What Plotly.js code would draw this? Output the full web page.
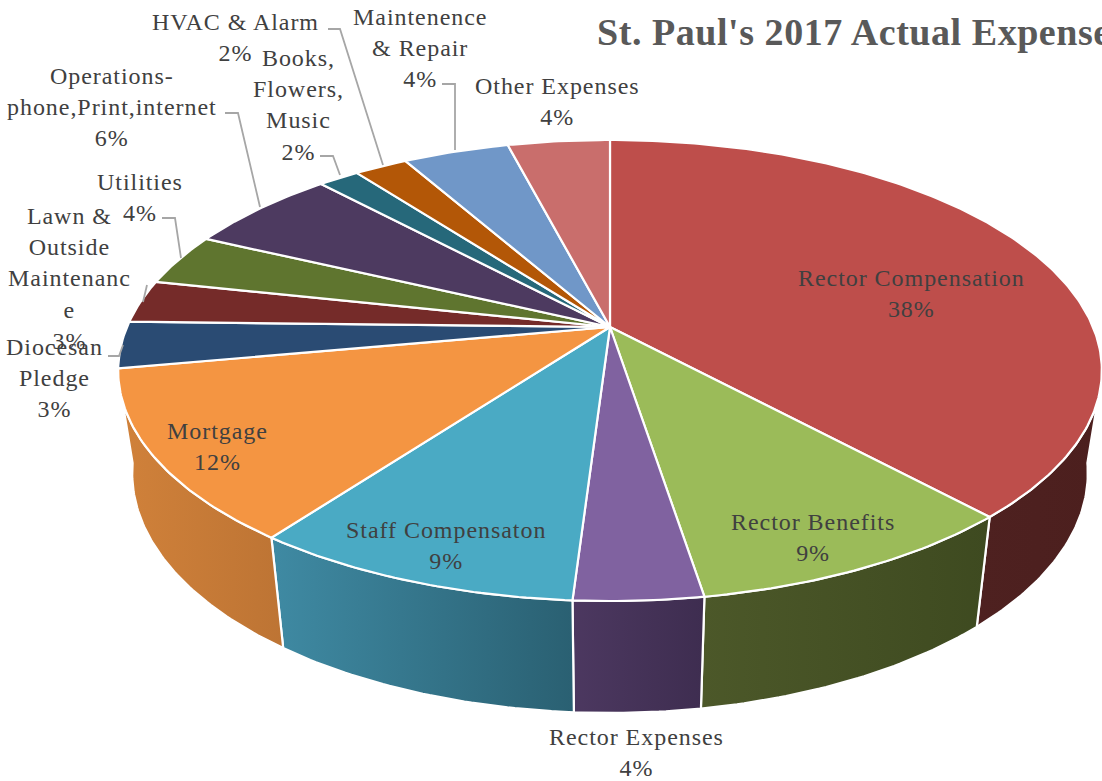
<!DOCTYPE html>
<html><head><meta charset="utf-8">
<script src="https://cdn.plot.ly/plotly-3.0.1.min.js"></script>
<style>html,body{margin:0;padding:0;background:#fff;overflow:hidden}#c{width:1102px;height:781px}
.annotation-text{letter-spacing:0.95px}
.gtitle{letter-spacing:0.55px}</style>
</head><body><div id="c"></div><script>
// Data (clockwise from 12 o'clock)
const categories = ["Rector Compensation","Rector Benefits","Rector Expenses","Staff Compensaton","Mortgage","Diocesan Pledge","Lawn & Outside Maintenance","Utilities","Operations-phone,Print,internet","Books, Flowers, Music","HVAC & Alarm","Maintenence & Repair","Other Expenses"];
const values = [38.2,9.3,3.55,9.14,12.0,3.26,3.01,3.66,6.04,1.61,2.1,4.19,4.03];
const wrapped = ["Rector Compensation","Rector Benefits","Rector Expenses","Staff Compensaton","Mortgage","Diocesan<br>Pledge","Lawn &<br>Outside<br>Maintenanc<br>e","Utilities","Operations-<br>phone,Print,internet","Books,<br>Flowers,<br>Music","HVAC & Alarm","Maintenence<br>& Repair","Other Expenses"];
const topColors = ["#BE4E4B","#9BBB59","#8062A0","#4AAAC4","#F49542","#2A4B73","#752B29","#5F752F","#4D3A60","#26687A","#B35707","#7097C8","#C96E6C"];
const wallFrom = ["#4E2120","#4C5829","#4C3860","#3F8AA3","#D0813A"];
const wallTo   = ["#4C1F1E","#3E4A20","#3E2D50","#2A6072","#BD7434"];
const title = "St. Paul's 2017 Actual Expenses";

// Layout of labels and leaders (pixels of the page)
const labelX = [911,813,636,446,217,54,69,140,112,298,235,420,557];
const labelY = [293,537,752,545,446,378,278,197,107,105,37,48,101];
const leaders = [
 null,null,null,null,null,
 [[108,356],[119,356],[123,345]],
 [[147,285],[143,302]],
 [[162,218],[175,218],[181,258]],
 [[225,113],[238,113],[260,207]],
 [[320,156],[333,156],[340,175]],
 [[328,29],[340,29],[383,165]],
 [[442,84],[455,84],[455,150]],
 null];

// Perspective projection of the disc onto the page
const topFace = {cx:610, cy:327, a:483, b:222.3, k:0.1887};
const botFace = {cx:610, cy:430, a:470, b:232,   k:0.18};
function project(f, deg){
  const t = deg*Math.PI/180, u = Math.sin(t), v = Math.cos(t), d = 1+f.k*v;
  return [f.cx + f.a*u/d, f.cy - f.b*v/d];
}
function arc(f, d0, d1){
  const n = Math.max(2, Math.ceil(Math.abs(d1-d0)/0.75)), pts=[];
  for(let i=0;i<=n;i++) pts.push(project(f, d0+(d1-d0)*i/n));
  return pts;
}
const total = values.reduce((a,b)=>a+b,0);
const edges = [0];
values.forEach(v=>edges.push(edges[edges.length-1]+v/total*360));

// silhouette of the visible wall: angles on the top rim and on the bottom rim
const WALL_R = 108, WALL_L = 252, BOT_R = 98, BOT_L = 262;
const traces = [];
// walls
categories.forEach((name,i)=>{
  const d0 = Math.max(edges[i],WALL_R), d1 = Math.min(edges[i+1],WALL_L);
  if(d1<=d0) return;
  const b0 = d0===WALL_R ? BOT_R : d0, b1 = d1===WALL_L ? BOT_L : d1;
  const pts = arc(topFace,d0,d1).concat(arc(botFace,b1,b0));
  pts.push(pts[0]);
  const xs = pts.map(p=>p[0]);
  traces.push({type:'scatter',mode:'lines',x:xs,y:pts.map(p=>p[1]),fill:'toself',
    line:{color:'#fff',width:2.2},name:name,showlegend:false,hoverinfo:'name',
    fillgradient:{type:'horizontal',start:Math.min(...xs),stop:Math.max(...xs),
      colorscale:[[0,wallFrom[i]],[1,wallTo[i]]]}});
});
// top face
categories.forEach((name,i)=>{
  const pts = [[topFace.cx,topFace.cy]].concat(arc(topFace,edges[i],edges[i+1]));
  pts.push(pts[0]);
  traces.push({type:'scatter',mode:'lines',x:pts.map(p=>p[0]),y:pts.map(p=>p[1]),fill:'toself',
    fillcolor:topColors[i],line:{color:'#fff',width:2.2},name:name,showlegend:false,hoverinfo:'name'});
});
// leaders
leaders.forEach(l=>{ if(!l) return;
  traces.push({type:'scatter',mode:'lines',x:l.map(p=>p[0]),y:l.map(p=>p[1]),
    line:{color:'#A6A6A6',width:1.8},showlegend:false,hoverinfo:'skip'});
});

const FONT = '"Liberation Serif", serif';
const annotations = categories.map((name,i)=>({
  xref:'x',yref:'y',x:labelX[i],y:labelY[i],xanchor:'center',yanchor:'middle',align:'center',
  showarrow:false,text:wrapped[i]+'<br>'+Math.round(values[i]/total*100)+'%',
  font:{family:FONT,size:24,color:'#404040'}
}));

Plotly.newPlot('c',traces,{
  width:1102,height:781,margin:{l:0,r:0,t:0,b:0},
  paper_bgcolor:'#fff',plot_bgcolor:'#fff',showlegend:false,
  xaxis:{range:[0,1102],visible:false,fixedrange:true},
  yaxis:{range:[781,0],visible:false,fixedrange:true},
  title:{text:'<b>'+title+'</b>',x:597/1102,xanchor:'left',xref:'paper',y:1-32/781,yref:'paper',yanchor:'middle',
    font:{family:FONT,size:38,color:'#595959'}},
  annotations:annotations
},{displayModeBar:false});
</script></body></html>
